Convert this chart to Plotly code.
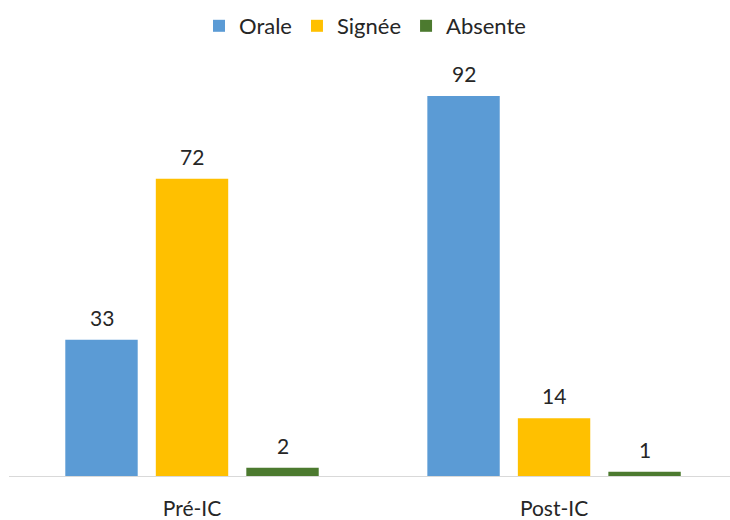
import plotly.graph_objects as go

categories = ["Pré-IC", "Post-IC"]
series_names = ["Orale", "Signée", "Absente"]
orale = [33, 92]
signee = [72, 14]
absente = [2, 1]
colors = ["#5B9BD5", "#FFC000", "#4C7A2F"]

slot = 0.25
bar_w = 0.2
cat_pos = list(range(len(categories)))

fig = go.Figure()
annotations = []
for i, (name, vals, col) in enumerate(zip(series_names, [orale, signee, absente], colors)):
    xs = [p + (i - 1) * slot for p in cat_pos]
    fig.add_trace(go.Bar(
        x=xs, y=vals, width=bar_w, name=name,
        marker=dict(color=col, line=dict(width=0)),
        hoverinfo="name+y",
    ))
    for x, v in zip(xs, vals):
        annotations.append(dict(x=x, y=v, xref="x", yref="y", text=str(v),
                                showarrow=False, yanchor="bottom", yshift=8,
                                font=dict(size=21, color="#262626")))

fig.update_layout(
    width=730, height=520,
    margin=dict(l=9, r=0, t=63, b=44, autoexpand=False),
    paper_bgcolor="white", plot_bgcolor="white",
    font=dict(family="Lato, Carlito, sans-serif", size=21, color="#262626"),
    barmode="overlay",
    showlegend=True,
    annotations=annotations,
    legend=dict(orientation="h", x=0.5, xanchor="center", xref="container",
                y=0.95, yanchor="middle", yref="container",
                font=dict(size=22), traceorder="normal"),
    xaxis=dict(showline=True, linecolor="#D9D9D9", linewidth=1, ticks="",
               showgrid=False, zeroline=False,
               tickvals=cat_pos, ticktext=categories,
               range=[-0.5055, 1.486],
               tickfont=dict(size=21, color="#262626"),
               ticklabelstandoff=14, automargin=False),
    yaxis=dict(range=[0, 100], visible=False, showgrid=False, automargin=False),
)
fig.write_html("out.html", config={"displayModeBar": False},
               post_script="document.body.style.margin='0';")
